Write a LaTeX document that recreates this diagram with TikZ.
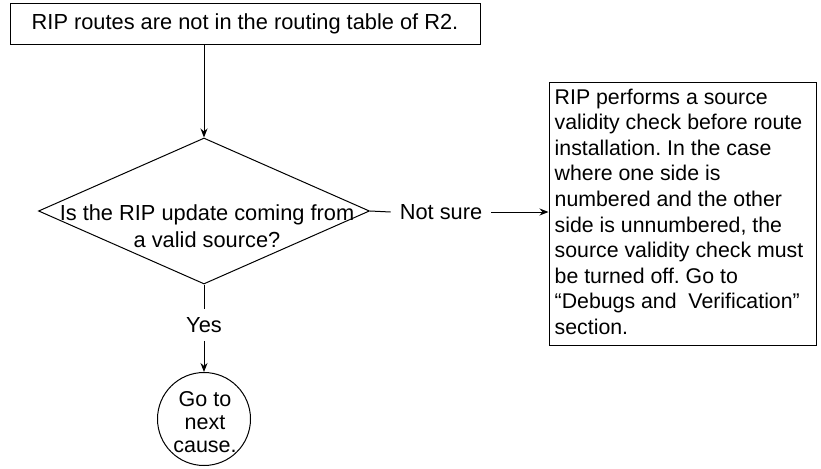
\documentclass[tikz,border=0pt]{standalone}
\usepackage{fontspec}
\setmainfont{Liberation Sans}
\usetikzlibrary{shapes.geometric,arrows.meta}
\frenchspacing
\begin{document}
\begin{tikzpicture}[x=1pt,y=-1pt,
  every node/.style={font=\fontsize{21.8}{25.5}\selectfont},
  box/.style={draw,line width=1pt,inner sep=0pt},
  decision/.style={draw,diamond,line width=1pt,inner sep=0pt},
  endpoint/.style={draw,circle,line width=1pt,inner sep=0pt,minimum size=93pt},
  label/.style={inner sep=0pt},
  conn/.style={line width=1pt},
  arrowconn/.style={conn,-{Stealth[length=9pt,width=7pt]}}]
  \useasboundingbox (0,0) rectangle (821,468);

  % problem statement
  \node[box,minimum width=470pt,minimum height=41pt] (start) at (245,24)
    {RIP routes are not in the routing table of R2.};

  % decision
  \node[decision,minimum width=331pt,minimum height=146pt] (check) at (204,211) {};
  \node[label,align=center,font=\fontsize{21.8}{27}\selectfont] (checktext) at (207,226)
    {Is the RIP update coming from\\a valid source?};

  % "Not sure" branch
  \node[label,inner xsep=9pt] (notsure) at (441,212) {Not sure};
  \node[box,minimum width=267pt,minimum height=262pt] (advice) at (682.5,214) {};
  \node[label,anchor=north west,align=left,font=\fontsize{21.3}{25.6}\selectfont]
    (advicetext) at ([xshift=6pt,yshift=-6pt]advice.north west)
    {RIP performs a source\\validity check before route\\installation. In the case\\where one side is\\numbered and the other\\side is unnumbered, the\\source validity check must\\be turned off. Go to\\``Debugs and\ \ Verification''\\section.};

  % "Yes" branch
  \node[label,inner ysep=8pt] (yes) at (204,325) {Yes};
  \node[endpoint] (next) at (204,419) {};
  \node[label,align=center,font=\fontsize{21.5}{23}\selectfont] (nexttext) at (205,422)
    {Go to\\next\\cause.};

  % connectors
  \draw[arrowconn] (start.south -| check.north) -- (check.north);
  \draw[conn] (check.east) -- (notsure.west);
  \draw[arrowconn] (notsure.east) -- (advice.west |- notsure.east);
  \draw[conn] (check.south) -- (yes.north);
  \draw[arrowconn] (yes.south) -- (next.north);
\end{tikzpicture}
\end{document}
